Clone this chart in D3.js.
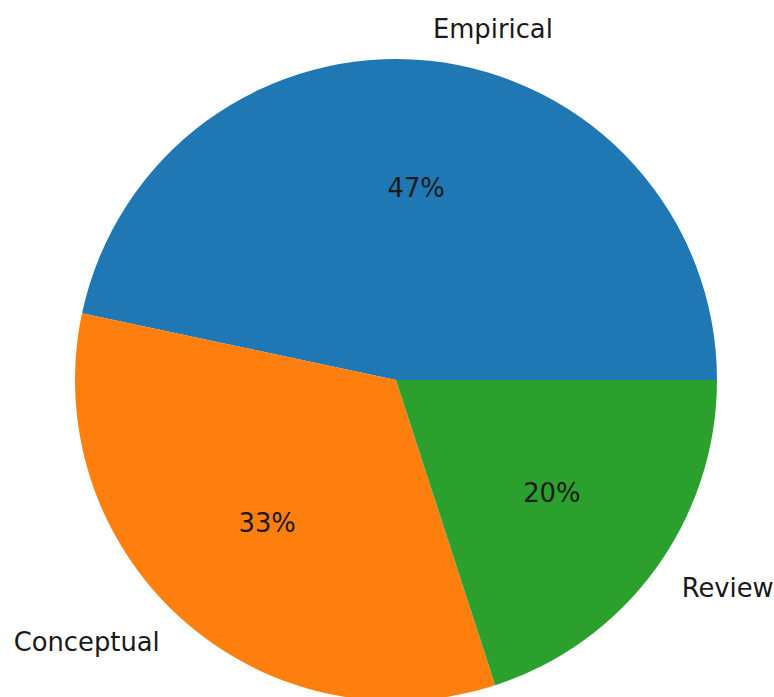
<!DOCTYPE html>
<html><head><meta charset="utf-8">
<script src="https://cdn.jsdelivr.net/npm/d3@7"></script>
<style>body{margin:0;background:#fff}</style>
</head><body>
<svg id="c" width="774" height="697"></svg>
<script>
const categories = ["Empirical", "Conceptual", "Review"];
const values = [7, 5, 3];
const colors = ["#1f77b4", "#ff7f0e", "#2ca02c"];

const cx = 396, cy = 380, r = 321;
const svg = d3.select("#c");
const g = svg.append("g").attr("transform", `translate(${cx},${cy})`);

// matplotlib: start at 3 o'clock, counterclockwise. d3 angles: 0 at 12 o'clock, clockwise.
const pie = d3.pie().sort(null).value(d => d)
  .startAngle(Math.PI / 2).endAngle(Math.PI / 2 - 2 * Math.PI);
const arcs = pie(values);
const arc = d3.arc().innerRadius(0).outerRadius(r);

g.selectAll("path").data(arcs).enter().append("path")
  .attr("d", arc).attr("fill", (d, i) => colors[i]);

const total = d3.sum(values);
const font = "'DejaVu Sans', sans-serif";
arcs.forEach((d, i) => {
  const mid = (d.startAngle + d.endAngle) / 2;
  const x = Math.sin(mid), y = -Math.cos(mid);
  g.append("text")
    .attr("x", x * r * 1.1).attr("y", y * r * 1.1)
    .attr("text-anchor", x > 0 ? "start" : "end")
    .attr("dominant-baseline", "central")
    .style("font-family", font).style("font-size", "25.8px").attr("fill", "#1a1a1a")
    .text(categories[i]);
  g.append("text")
    .attr("x", x * r * 0.6).attr("y", y * r * 0.6)
    .attr("text-anchor", "middle")
    .attr("dominant-baseline", "central")
    .style("font-family", font).style("font-size", "25.8px").attr("fill", "#1a1a1a")
    .text(Math.round(values[i] / total * 100) + "%");
});
</script>
</body></html>
